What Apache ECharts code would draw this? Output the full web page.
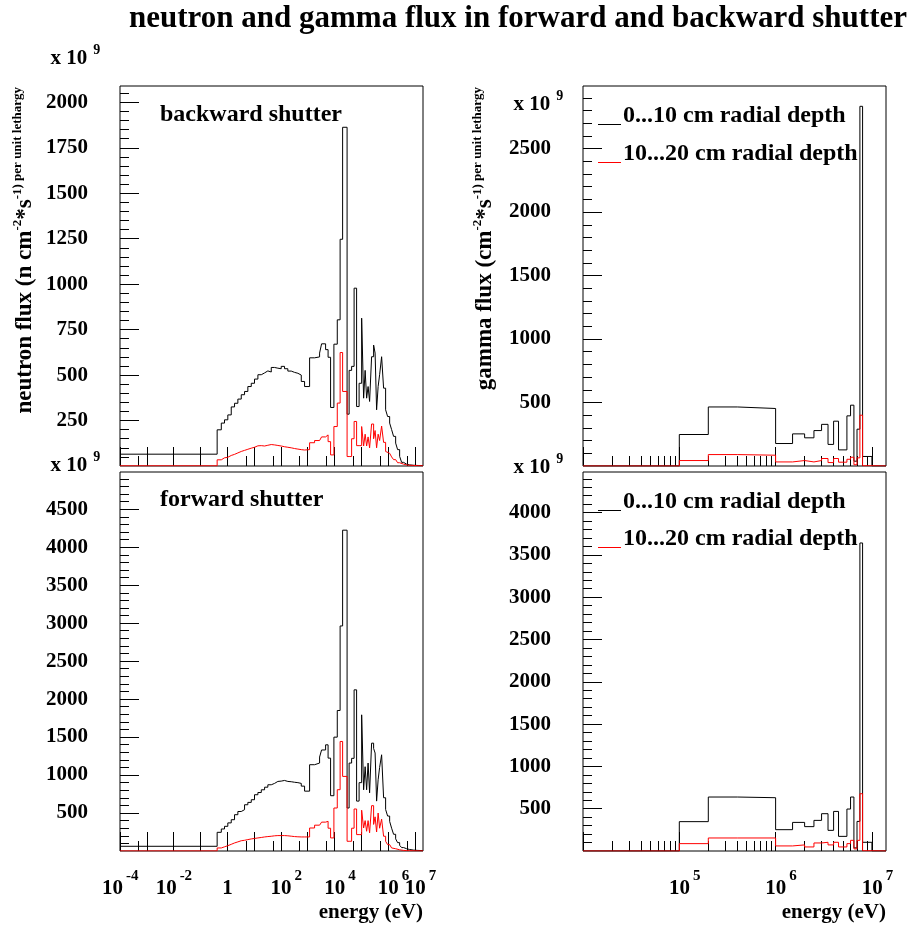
<!DOCTYPE html>
<html>
<head>
<meta charset="utf-8">
<script src="https://cdn.jsdelivr.net/npm/echarts@6/dist/echarts.min.js"></script>
<style>
  html, body { margin: 0; padding: 0; background: #fff; }
  #chart { width: 908px; height: 929px; }
</style>
</head>
<body>
<div id="chart"></div>
<script>
// ---------- neutron spectra: group boundaries (eV) and flux per unit lethargy (x 10^9) ----------
const neutronEdges = [1e-4, 0.42, 0.60, 0.79, 1.05, 1.41, 1.87, 2.49, 3.33, 4.42, 5.87, 7.86, 10.4, 13.9,
  18.6, 24.7, 32.7, 43.8, 58.2, 77.3, 103, 137, 182, 244, 324, 431, 577, 766, 1180, 1810, 2780, 3300,
  4660, 5770, 7150, 9500, 12700, 16200, 20100, 29500, 35100, 43500, 53900, 66800, 82800, 1.03e5,
  1.22e5, 1.39e5, 1.58e5, 1.79e5, 2.04e5, 2.42e5, 2.88e5, 3.27e5, 3.72e5, 4.24e5, 4.82e5, 5.72e5,
  6.79e5, 8.07e5, 9.58e5, 1.14e6, 1.35e6, 1.60e6, 1.91e6, 2.26e6, 2.69e6, 3.19e6, 3.79e6, 4.90e6,
  6.34e6, 8.94e6, 1.26e7, 2e7];

// backward shutter, 0...10 cm radial depth
const neutronBackDepth1 = [65, 199, 236, 254, 281, 325, 345, 368, 392, 410,
  437, 455, 478, 502, 512, 523, 517, 542, 538, 535,
  548, 535, 522, 515, 510, 500, 465, 437, 595, 600,
  621, 672, 640, 598, 322, 670, 804, 1247, 1863, 285,
  526, 548, 978, 327, 455, 813, 373, 526, 373, 437,
  355, 601, 665, 621, 309, 437, 502, 601, 428, 309,
  272, 236, 200, 163, 126, 90, 53, 20, 10, 6,
  4, 3, 2];
// backward shutter, 10...20 cm radial depth
const neutronBackDepth2 = [1, 34, 45, 48, 58, 64, 72, 80, 86, 92,
  98, 103, 111, 112, 110, 114, 118, 116, 113, 110,
  106, 103, 100, 96, 93, 90, 88, 90, 128, 140,
  150, 160, 171, 134, 61, 217, 346, 624, 410, 52,
  52, 150, 245, 112, 112, 217, 110, 175, 110, 160,
  100, 231, 150, 195, 100, 175, 140, 220, 130, 80,
  70, 66, 50, 35, 24, 18, 14, 10, 6, 4,
  3, 2, 1];
// forward shutter, 0...10 cm radial depth
const neutronFwdDepth1 = [62, 246, 290, 325, 370, 412, 478, 520, 544, 609,
  640, 675, 741, 770, 806, 840, 872, 890, 916, 920,
  929, 916, 912, 905, 900, 890, 854, 788, 1136, 1158,
  1237, 1330, 1398, 1223, 728, 1499, 1850, 2963, 4224, 566,
  1158, 1220, 2122, 657, 900, 1793, 806, 1110, 806, 1158,
  766, 1420, 1350, 1290, 657, 938, 1100, 1267, 701, 547,
  460, 390, 300, 220, 160, 110, 75, 45, 30, 20,
  12, 8, 5];
// forward shutter, 10...20 cm radial depth
const neutronFwdDepth2 = [1, 40, 55, 70, 88, 106, 120, 135, 141, 150,
  159, 165, 172, 178, 185, 190, 194, 200, 203, 203,
  203, 200, 195, 190, 187, 185, 185, 185, 303, 340,
  360, 380, 391, 300, 172, 566, 807, 1442, 982, 128,
  128, 300, 553, 216, 216, 537, 303, 400, 260, 400,
  240, 597, 350, 450, 250, 500, 300, 420, 194, 128,
  84, 60, 40, 30, 22, 16, 12, 8, 5, 4,
  3, 2, 1];

// ---------- gamma spectra: group boundaries (eV) and flux per unit lethargy (x 10^9) ----------
const gammaEdges = [1e4, 1e5, 2e5, 4e5, 1e6, 1.5e6, 2e6, 2.5e6, 3e6, 3.5e6, 4e6, 4.5e6,
  5.5e6, 6e6, 6.5e6, 7e6, 7.5e6, 8e6, 1e7, 1.4e7];
const gammaBackDepth1 = [0, 248, 465, 453, 177, 253, 222, 279, 328, 170, 353, 127, 395, 479, 38, 290, 2833, 75, 0];
const gammaBackDepth2 = [0, 43, 90, 85, 32, 43, 32, 43, 59, 27, 59, 30, 53, 69, 10, 64, 400, 2, 0];
const gammaFwdDepth1 = [0, 347, 638, 630, 252, 338, 288, 362, 441, 244, 468, 173, 496, 638, 37, 350, 3641, 103, 0];
const gammaFwdDepth2 = [0, 87, 154, 154, 60, 72, 48, 95, 103, 72, 103, 48, 87, 126, 25, 126, 677, 3, 0];

// ---------- axis ticks ----------
const neutronMajorTicks = [1e-4, 1e-3, 1e-2, 1e-1, 1, 10, 100, 1e3, 1e4, 1e5, 1e6, 1e7];
const neutronMinorTicks = [5e-4, 5, 50, 500, 5e3, 5e4, 5e5, 5e6];
const neutronTickLabels = [1e-4, 1e-2, 1, 100, 1e4, 1e6];
const neutronEndLabels = [1e7];     // sits right next to 10^6, so it lives on its own axis
const gammaMajorTicks = [1e4, 1e5, 1e6, 1e7];
const gammaMinorTicks = [2e4, 3e4, 4e4, 5e4, 6e4, 7e4, 8e4, 9e4,
  2e5, 3e5, 4e5, 5e5, 6e5, 7e5, 8e5, 9e5,
  2e6, 3e6, 4e6, 5e6, 6e6, 7e6, 8e6, 9e6];
const gammaTickLabels = [1e5, 1e6, 1e7];

const fluxBackNeutronLabels = [250, 500, 750, 1000, 1250, 1500, 1750, 2000];
const fluxFwdNeutronLabels = [500, 1000, 1500, 2000, 2500, 3000, 3500, 4000, 4500];
const fluxBackGammaLabels = [500, 1000, 1500, 2000, 2500];
const fluxFwdGammaLabels = [500, 1000, 1500, 2000, 2500, 3000, 3500, 4000];

const depthNames = ['0...10 cm radial depth', '10...20 cm radial depth'];
const depthColors = ['#000000', '#ff0000'];

// ---------- helpers ----------
const FONT = '"Liberation Serif", "Times New Roman", serif';

function histPoints(edges, values) {
  const pts = values.map((v, i) => [edges[i], v]);
  pts.push([edges[edges.length - 1], values[values.length - 1]]);
  return pts;
}

function stepsBetween(lo, hi, step) {
  const out = [];
  for (let v = lo; v <= hi + 1e-9; v += step) out.push(v);
  return out;
}

// "10" with a raised exponent; positive exponents keep "10" centred on the tick
function powLabel(value) {
  const e = Math.round(Math.log10(value));
  if (e === 0) return '{h| }{b|1}';
  if (e > 0) return '{lead| }{b|10}{gap| }{s|' + e + '}';
  return '{h| }{b|10}{gap| }{s|' + e + '}';
}

const baseTok = { fontFamily: FONT, fontWeight: 'bold', fontSize: 21, lineHeight: 21, verticalAlign: 'bottom', color: '#000' };
const supTok = { fontFamily: FONT, fontWeight: 'bold', fontSize: 15, lineHeight: 15, verticalAlign: 'top', color: '#000' };
const powRich = {
  h: { fontSize: 1, lineHeight: 30, width: 0.5 },
  lead: { fontSize: 1, lineHeight: 30, width: 11 },
  gap: { fontSize: 1, lineHeight: 1, width: 3 },
  b: baseTok,
  s: supTok
};

function powAxisLabel(values) {
  return values ? {
    show: true, customValues: values, margin: 18, hideOverlap: false,
    formatter: powLabel, rich: powRich,
    fontFamily: FONT, fontWeight: 'bold', fontSize: 21, color: '#000'
  } : { show: false };
}

const panels = [
  { grid: { left: 120, top: 86, width: 303, height: 380 }, xMin: 1e-4, xMax: 2e7, yMax: 2090,
    major: neutronMajorTicks, minor: neutronMinorTicks, xLabels: null, xLabelsAlt: null,
    yLabels: fluxBackNeutronLabels, yMinorStep: 50,
    edges: neutronEdges, series: [neutronBackDepth1, neutronBackDepth2] },
  { grid: { left: 120, top: 472, width: 303, height: 379 }, xMin: 1e-4, xMax: 2e7, yMax: 4990,
    major: neutronMajorTicks, minor: neutronMinorTicks, xLabels: neutronTickLabels, xLabelsAlt: neutronEndLabels,
    yLabels: fluxFwdNeutronLabels, yMinorStep: 100,
    edges: neutronEdges, series: [neutronFwdDepth1, neutronFwdDepth2] },
  { grid: { left: 583, top: 86, width: 303, height: 380 }, xMin: 1e4, xMax: 1.4e7, yMax: 2993,
    major: gammaMajorTicks, minor: gammaMinorTicks, xLabels: null, xLabelsAlt: null,
    yLabels: fluxBackGammaLabels, yMinorStep: 100,
    edges: gammaEdges, series: [gammaBackDepth1, gammaBackDepth2] },
  { grid: { left: 583, top: 472, width: 303, height: 379 }, xMin: 1e4, xMax: 1.4e7, yMax: 4480,
    major: gammaMajorTicks, minor: gammaMinorTicks, xLabels: gammaTickLabels, xLabelsAlt: null,
    yLabels: fluxFwdGammaLabels, yMinorStep: 100,
    edges: gammaEdges, series: [gammaFwdDepth1, gammaFwdDepth2] }
];

const grids = [], xAxes = [], yAxes = [], series = [];
panels.forEach((p, g) => {
  grids.push(Object.assign({ show: true, borderColor: '#000', borderWidth: 1, backgroundColor: 'transparent' }, p.grid));
  const tickStyle = { color: '#000', width: 1 };
  // main x axis: decade ticks + labels
  xAxes.push({
    type: 'log', logBase: 10, gridIndex: g, min: p.xMin, max: p.xMax, position: 'bottom',
    axisLine: { show: false }, splitLine: { show: false }, minorTick: { show: false },
    axisTick: { show: true, inside: true, length: 19, lineStyle: tickStyle, customValues: p.major },
    axisLabel: powAxisLabel(p.xLabels)
  });
  // secondary x axis: short intermediate ticks (and the crowded end label)
  xAxes.push({
    type: 'log', logBase: 10, gridIndex: g, min: p.xMin, max: p.xMax, position: 'bottom',
    axisLine: { show: false }, splitLine: { show: false },
    axisTick: { show: true, inside: true, length: 10, lineStyle: tickStyle, customValues: p.minor },
    axisLabel: powAxisLabel(p.xLabelsAlt)
  });
  // main y axis: labelled ticks
  yAxes.push({
    type: 'value', gridIndex: g, min: 0, max: p.yMax, position: 'left',
    axisLine: { show: false, onZero: false }, splitLine: { show: false },
    axisTick: { show: true, inside: true, length: 19, lineStyle: tickStyle, customValues: p.yLabels },
    axisLabel: { show: true, customValues: p.yLabels, margin: 32, hideOverlap: false,
      formatter: v => String(v),
      fontFamily: FONT, fontWeight: 'bold', fontSize: 21, color: '#000' }
  });
  // secondary y axis: minor ticks
  yAxes.push({
    type: 'value', gridIndex: g, min: 0, max: p.yMax, position: 'left',
    axisLine: { show: false, onZero: false }, splitLine: { show: false }, axisLabel: { show: false },
    axisTick: { show: true, inside: true, length: 9, lineStyle: tickStyle,
      customValues: stepsBetween(p.yMinorStep, p.yMax - 1, p.yMinorStep) }
  });
  p.series.forEach((vals, k) => {
    series.push({
      type: 'line', name: depthNames[k], xAxisIndex: 2 * g, yAxisIndex: 2 * g, step: 'end',
      symbol: 'none', showSymbol: false, silent: true, animation: false,
      data: histPoints(p.edges, vals),
      lineStyle: { color: depthColors[k], width: 1 }, itemStyle: { color: depthColors[k] },
      z: 2 + k
    });
  });
});

// ---------- text and legend decorations ----------
function txt(text, x, y, size, align, vAlign) {
  return {
    type: 'text', x: x, y: y, silent: true,
    style: {
      text: text, fill: '#000', font: 'bold ' + size + 'px ' + FONT,
      textAlign: align, textVerticalAlign: vAlign, align: align, verticalAlign: vAlign
    }
  };
}

function multiplier(x, top) {
  return {
    type: 'text', x: x, y: top, silent: true,
    style: {
      text: '{h| }{m|x 10}{gap| }{s|9}', fill: '#000',
      textAlign: 'left', textVerticalAlign: 'top', align: 'left', verticalAlign: 'top',
      rich: {
        h: { fontSize: 1, lineHeight: 26, width: 0.5 },
        gap: { fontSize: 1, lineHeight: 1, width: 6 },
        m: { fontFamily: FONT, fontWeight: 'bold', fontSize: 21, lineHeight: 21, verticalAlign: 'bottom', fill: '#000' },
        s: { fontFamily: FONT, fontWeight: 'bold', fontSize: 14, lineHeight: 14, verticalAlign: 'top', fill: '#000' }
      }
    }
  };
}

function yTitle(mainText, x, yEnd) {
  return {
    type: 'text', x: x, y: yEnd, rotation: Math.PI / 2, silent: true,
    style: {
      text: '{h| }{m|' + mainText + '}{s|-2}{m|*s}{s|-1) per unit lethargy}',
      fill: '#000', textAlign: 'right', textVerticalAlign: 'bottom', align: 'right', verticalAlign: 'bottom',
      rich: {
        h: { fontSize: 1, lineHeight: 26, width: 0.5 },
        m: { fontFamily: FONT, fontWeight: 'bold', fontSize: 23, lineHeight: 23, verticalAlign: 'bottom', fill: '#000' },
        s: { fontFamily: FONT, fontWeight: 'bold', fontSize: 13, lineHeight: 13, verticalAlign: 'top', fill: '#000' }
      }
    }
  };
}

// legend row: a short coloured stroke followed by its label
function legendEntry(yLine, k) {
  return [
    { type: 'rect', silent: true, z: 10, shape: { x: 598, y: yLine, width: 23, height: 1 }, style: { fill: depthColors[k] } },
    txt(depthNames[k], 623, yLine - 8.6, 24, 'left', 'middle')
  ];
}

const graphics = [
  txt('neutron and gamma flux in forward and backward shutter', 518, 19, 31, 'center', 'middle'),
  txt('backward shutter', 160, 115.2, 24, 'left', 'middle'),
  txt('forward shutter', 160, 500.2, 24, 'left', 'middle'),
  multiplier(50, 43.4),
  multiplier(50, 450.4),
  multiplier(513, 89.1),
  multiplier(513, 452.4),
  yTitle('neutron flux (n cm', 36.7, 87),
  yTitle('gamma flux (cm', 496.7, 87),
  txt('energy (eV)', 423, 913, 21, 'right', 'middle'),
  txt('energy (eV)', 886, 913, 21, 'right', 'middle')
].concat(legendEntry(124, 0), legendEntry(162, 1), legendEntry(510, 0), legendEntry(547, 1));

const chart = echarts.init(document.getElementById('chart'), null, { renderer: 'canvas' });
chart.setOption({
  animation: false,
  backgroundColor: '#ffffff',
  grid: grids,
  xAxis: xAxes,
  yAxis: yAxes,
  series: series,
  graphic: graphics
});
</script>
</body>
</html>
